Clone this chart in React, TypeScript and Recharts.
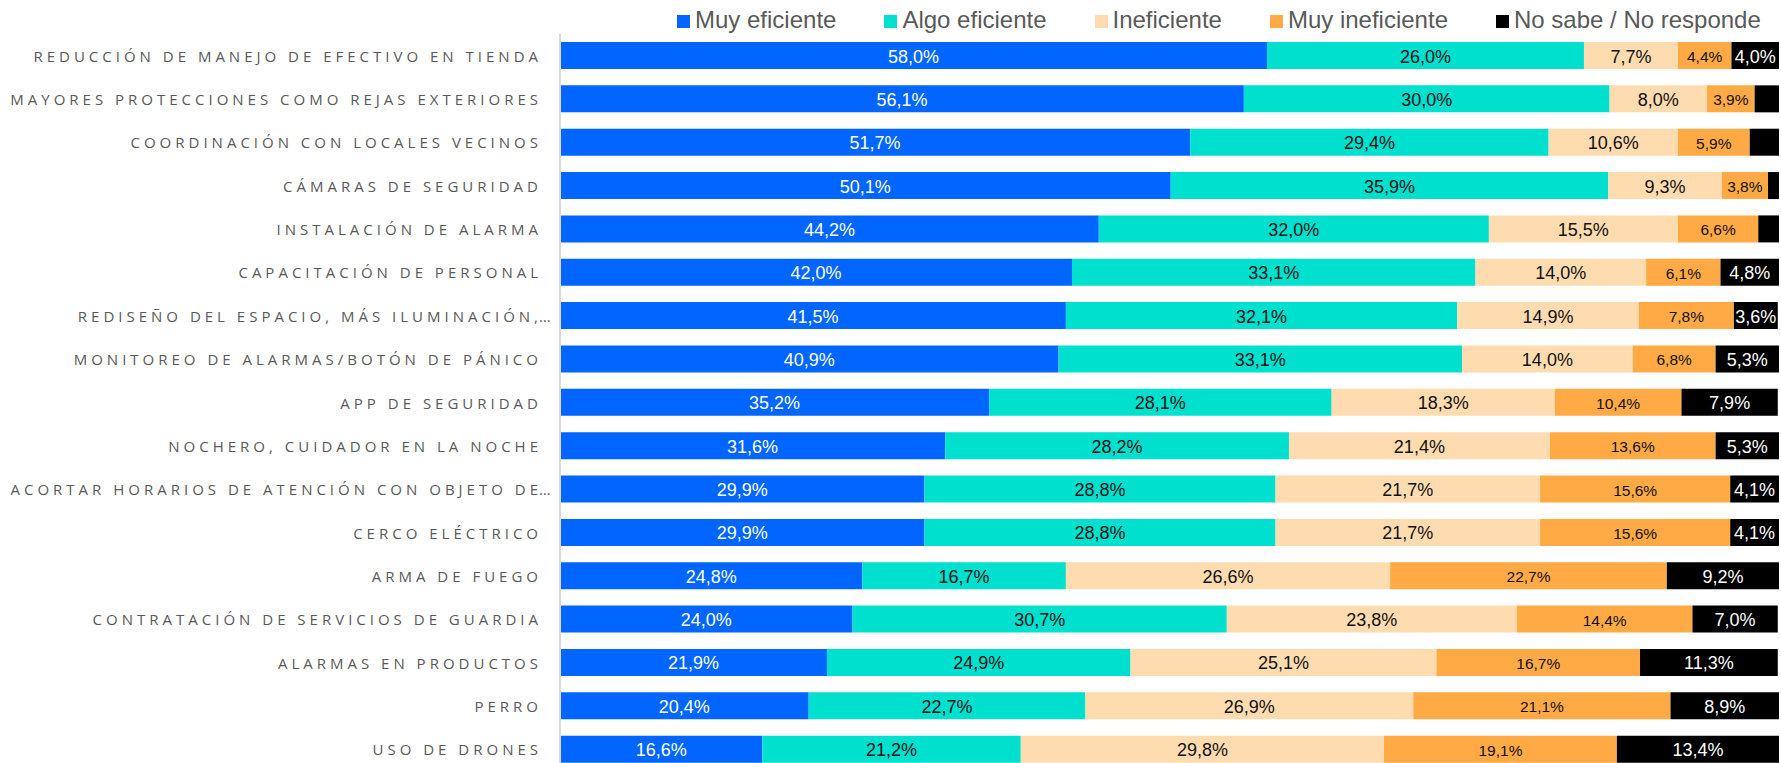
import React from 'react';
import { BarChart, Bar, XAxis, YAxis, Legend, LabelList } from 'recharts';

// categories, top to bottom
const categories = [
  'REDUCCIÓN DE MANEJO DE EFECTIVO EN TIENDA',
  'MAYORES PROTECCIONES COMO REJAS EXTERIORES',
  'COORDINACIÓN CON LOCALES VECINOS',
  'CÁMARAS DE SEGURIDAD',
  'INSTALACIÓN DE ALARMA',
  'CAPACITACIÓN DE PERSONAL',
  'REDISEÑO DEL ESPACIO, MÁS ILUMINACIÓN,…',
  'MONITOREO DE ALARMAS/BOTÓN DE PÁNICO',
  'APP DE SEGURIDAD',
  'NOCHERO, CUIDADOR EN LA NOCHE',
  'ACORTAR HORARIOS DE ATENCIÓN CON OBJETO DE…',
  'CERCO ELÉCTRICO',
  'ARMA DE FUEGO',
  'CONTRATACIÓN DE SERVICIOS DE GUARDIA',
  'ALARMAS EN PRODUCTOS',
  'PERRO',
  'USO DE DRONES',
];

const muyEficiente = [58.0, 56.1, 51.7, 50.1, 44.2, 42.0, 41.5, 40.9, 35.2, 31.6, 29.9, 29.9, 24.8, 24.0, 21.9, 20.4, 16.6];
const algoEficiente = [26.0, 30.0, 29.4, 35.9, 32.0, 33.1, 32.1, 33.1, 28.1, 28.2, 28.8, 28.8, 16.7, 30.7, 24.9, 22.7, 21.2];
const ineficiente = [7.7, 8.0, 10.6, 9.3, 15.5, 14.0, 14.9, 14.0, 18.3, 21.4, 21.7, 21.7, 26.6, 23.8, 25.1, 26.9, 29.8];
const muyIneficiente = [4.4, 3.9, 5.9, 3.8, 6.6, 6.1, 7.8, 6.8, 10.4, 13.6, 15.6, 15.6, 22.7, 14.4, 16.7, 21.1, 19.1];
const noSabe = [4.0, 2.0, 2.4, 0.9, 1.7, 4.8, 3.6, 5.3, 7.9, 5.3, 4.1, 4.1, 9.2, 7.0, 11.3, 8.9, 13.4];

const SERIES = [
  { key: 'muy', name: 'Muy eficiente', color: '#0066ff', text: '#ffffff', size: 18 },
  { key: 'algo', name: 'Algo eficiente', color: '#00e0cf', text: '#111111', size: 18 },
  { key: 'inef', name: 'Ineficiente', color: '#fedcb0', text: '#111111', size: 18 },
  { key: 'muyInef', name: 'Muy ineficiente', color: '#ffaa44', text: '#111111', size: 15.5 },
  { key: 'nsnr', name: 'No sabe / No responde', color: '#000000', text: '#ffffff', size: 18 },
];

const data = categories.map((name, i) => ({
  name,
  muy: muyEficiente[i],
  algo: algoEficiente[i],
  inef: ineficiente[i],
  muyInef: muyIneficiente[i],
  nsnr: noSabe[i],
}));

const fmt = (v: number) => `${v.toFixed(1).replace('.', ',')}%`;

const makeLabel = (color: string, size: number) => (props: any) => {
  const { x, y, width, height, value } = props;
  if (value == null || value < 3) return null;
  return (
    <text
      x={x + width / 2}
      y={y + height / 2 + 1}
      textAnchor="middle"
      dominantBaseline="central"
      fill={color}
      fontSize={size}
      fontFamily="'Liberation Sans', Arial, sans-serif"
    >
      {fmt(value)}
    </text>
  );
};

const tickStyle = {
  fill: '#595959',
  fontSize: 15,
  fontFamily: "'Open Sans', sans-serif",
};

// truncated labels: the ellipsis hangs past the right-aligned edge
const CategoryTick = ({ x, y, payload }: any) => {
  const label: string = payload.value;
  const cut = label.endsWith('…');
  const main = cut ? label.slice(0, -1) : label;
  return (
    <g>
      <text x={x} y={y} textAnchor="end" dominantBaseline="central" letterSpacing={4} {...tickStyle}>
        {main}
      </text>
      {cut && (
        <text x={x - 3} y={y} textAnchor="start" dominantBaseline="central" {...tickStyle}>
          …
        </text>
      )}
    </g>
  );
};

const LegendRow = () => (
  <div
    style={{
      height: 34,
      display: 'flex',
      alignItems: 'flex-start',
      paddingLeft: 677,
      paddingTop: 8,
      boxSizing: 'border-box',
      gap: 48,
      fontFamily: "'Liberation Sans', Arial, sans-serif",
      fontSize: 24,
      lineHeight: '24px',
      color: '#595959',
      whiteSpace: 'nowrap',
    }}
  >
    {SERIES.map((s) => (
      <div key={s.key} style={{ display: 'flex', alignItems: 'flex-start' }}>
        <span
          style={{
            width: 13,
            height: 13,
            marginTop: 7,
            marginRight: 5,
            background: s.color,
            display: 'inline-block',
            flexShrink: 0,
          }}
        />
        <span>{s.name}</span>
      </div>
    ))}
  </div>
);

export default function App() {
  return (
    <div
      style={{
        position: 'fixed',
        top: 0,
        left: 0,
        width: 1781,
        height: 763,
        overflow: 'hidden',
        background: '#ffffff',
      }}
    >
      <BarChart
        width={1781}
        height={772}
        data={data}
        layout="vertical"
        margin={{ top: 0, right: 2, bottom: 1, left: 0 }}
        barSize={27}
      >
        <XAxis type="number" domain={[0, 100]} hide allowDataOverflow />
        <YAxis
          type="category"
          dataKey="name"
          width={560}
          interval={0}
          tickLine={false}
          tickSize={0}
          tickMargin={18}
          axisLine={{ stroke: '#d9d9d9', strokeWidth: 2 }}
          tick={<CategoryTick />}
        />
        <Legend
          verticalAlign="top"
          align="left"
          content={<LegendRow />}
          wrapperStyle={{ top: 0, left: 0, width: 1781, height: 34 }}
        />
        {SERIES.map((s) => (
          <Bar key={s.key} dataKey={s.key} name={s.name} stackId="a" fill={s.color} isAnimationActive={false}>
            <LabelList dataKey={s.key} content={makeLabel(s.text, s.size)} />
          </Bar>
        ))}
      </BarChart>
    </div>
  );
}
